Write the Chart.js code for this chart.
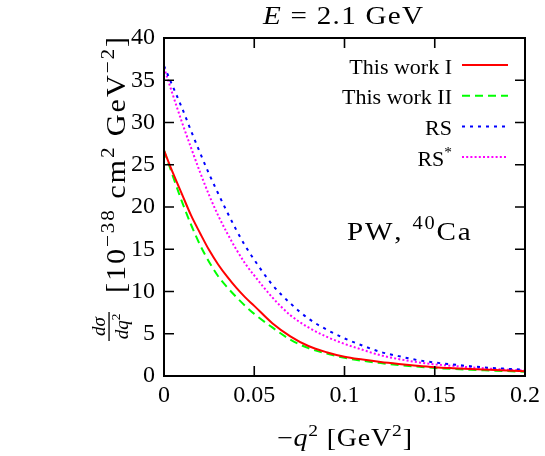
<!DOCTYPE html>
<html>
<head>
<meta charset="utf-8">
<script src="https://cdn.jsdelivr.net/npm/chart.js@4"></script>
<style>
  html, body { margin: 0; padding: 0; background: #fff; }
  #wrap { width: 545px; height: 456px; }
</style>
</head>
<body>
<div id="wrap"><canvas id="xsChart" width="545" height="456"></canvas></div>
<script>
// -q^2 [GeV^2]
const q2 = [0, 0.005, 0.01, 0.015, 0.02, 0.025, 0.03, 0.035, 0.04, 0.045, 0.05,
            0.06, 0.07, 0.08, 0.09, 0.1, 0.11, 0.12, 0.13, 0.14, 0.15,
            0.16, 0.17, 0.18, 0.19, 0.2];

// dsigma/dq^2 [10^-38 cm^2 GeV^-2]
const thisWorkI  = [26.7, 24.0, 21.5, 19.0, 16.9, 14.9, 13.2, 11.75, 10.45, 9.3, 8.3,
                    6.25, 4.7, 3.55, 2.82, 2.28, 1.94, 1.65, 1.42, 1.22, 1.05,
                    0.93, 0.83, 0.74, 0.65, 0.56];
const thisWorkII = [26.7, 23.6, 20.6, 17.9, 15.5, 13.5, 11.8, 10.5, 9.35, 8.3, 7.35,
                    5.75, 4.3, 3.3, 2.65, 2.15, 1.8, 1.53, 1.3, 1.11, 0.95,
                    0.83, 0.74, 0.66, 0.58, 0.51];
const rs         = [36.7, 34.2, 31.7, 29.0, 26.4, 23.9, 21.6, 19.4, 17.3, 15.4, 13.75,
                    10.8, 8.6, 6.8, 5.5, 4.45, 3.6, 2.85, 2.35, 1.9, 1.6,
                    1.36, 1.15, 0.98, 0.85, 0.74];
const rsStar     = [36.5, 33.2, 30.0, 27.0, 24.1, 21.4, 19.0, 16.9, 15.0, 13.3, 11.9,
                    9.3, 7.2, 5.75, 4.65, 3.8, 3.1, 2.45, 2.0, 1.65, 1.38,
                    1.2, 1.02, 0.88, 0.76, 0.66];

const seriesNames = ['This work I', 'This work II', 'RS', 'RS*'];
const xTicks = [0, 0.05, 0.1, 0.15, 0.2];
const yTicks = [0, 5, 10, 15, 20, 25, 30, 35, 40];

const FONT = '"Liberation Serif", "Times New Roman", serif';

function toPoints(ys) {
    return q2.map((x, i) => ({x: x, y: ys[i]}));
}

// rich text: parts = [{t, it, sup}], fitted to a given width
// (a little horizontal stretch, the rest as letter spacing)
function partFont(p, size) {
    const s = p.sup ? size * 0.7 : size;
    return (p.it ? 'italic ' : '') + s + 'px ' + FONT;
}
function drawRich(ctx, parts, x, y, size, targetW, align) {
    let w = 0, n = 0;
    parts.forEach(p => {
        ctx.font = partFont(p, size);
        w += ctx.measureText(p.t).width;
        n += Array.from(p.t).length;
    });
    let sx = 1, ls = 0;
    if (targetW) {
        sx = Math.max(0.9, Math.min(1.12, targetW / w));
        ls = n > 1 ? (targetW / sx - w) / (n - 1) : 0;
    }
    const total = (w + ls * (n - 1)) * sx;
    let x0 = x;
    if (align === 'right') x0 = x - total;
    if (align === 'center') x0 = x - total / 2;
    ctx.save();
    ctx.translate(x0, y);
    ctx.scale(sx, 1);
    ctx.textAlign = 'left';
    ctx.textBaseline = 'alphabetic';
    let cx = 0;
    parts.forEach(p => {
        ctx.font = partFont(p, size);
        Array.from(p.t).forEach(ch => {
            ctx.fillText(ch, cx, p.sup ? -size * 0.4 : 0);
            cx += ctx.measureText(ch).width + ls;
        });
    });
    ctx.restore();
}

const decorPlugin = {
    id: 'decor',
    afterDatasetsDraw(chart) {
        const ctx = chart.ctx;
        const a = chart.chartArea;
        const xs = chart.scales.x, ys = chart.scales.y;
        ctx.save();
        ctx.fillStyle = '#000';
        ctx.strokeStyle = '#000';

        // frame
        ctx.lineWidth = 2;
        ctx.strokeRect(a.left, a.top, a.right - a.left, a.bottom - a.top);

        // inward ticks on all sides
        ctx.lineWidth = 1.6;
        ctx.beginPath();
        xTicks.forEach(v => {
            const px = xs.getPixelForValue(v);
            ctx.moveTo(px, a.bottom); ctx.lineTo(px, a.bottom - 10);
            ctx.moveTo(px, a.top); ctx.lineTo(px, a.top + 10);
        });
        yTicks.forEach(v => {
            const py = ys.getPixelForValue(v);
            ctx.moveTo(a.left, py); ctx.lineTo(a.left + 10, py);
            ctx.moveTo(a.right, py); ctx.lineTo(a.right - 10, py);
        });
        ctx.stroke();

        // legend (text right-aligned, sample on the right)
        chart.data.datasets.forEach((ds, i) => {
            const yy = 65 + i * 30.7;
            drawRich(ctx, ds.label === 'RS*' ? [{t: 'RS'}, {t: '*', sup: true}] : [{t: ds.label}],
                     452, yy + 8.5, 22, null, 'right');
            ctx.save();
            ctx.strokeStyle = ds.borderColor;
            ctx.lineWidth = ds.borderWidth;
            ctx.setLineDash(ds.borderDash || []);
            ctx.beginPath();
            ctx.moveTo(462, yy);
            ctx.lineTo(508, yy);
            ctx.stroke();
            ctx.restore();
        });

        // PW, 40Ca
        drawRich(ctx, [{t: 'PW, '}, {t: '40', sup: true}, {t: 'Ca'}], 347, 239.5, 26, 121, 'left');

        // title
        drawRich(ctx, [{t: 'E', it: true}, {t: ' = 2.1 GeV'}], 263, 23.5, 26, 160, 'left');

        // x axis title
        drawRich(ctx, [{t: '\u2212'}, {t: 'q', it: true}, {t: '2', sup: true}, {t: ' [GeV'}, {t: '2', sup: true}, {t: ']'}],
                 277, 446, 25, 135, 'left');

        // y axis title (rotated)
        ctx.save();
        ctx.translate(125, 347);
        ctx.rotate(-Math.PI / 2);
        drawRich(ctx, [{t: 'd', it: true}, {t: '\u03C3', it: true}], 20.5, -20, 19, null, 'center');
        ctx.fillRect(6, -16.6, 29, 1.3);
        drawRich(ctx, [{t: 'dq', it: true}, {t: '2', sup: true}], 20.5, 3, 19, null, 'center');
        drawRich(ctx, [{t: '[10'}, {t: '\u221238', sup: true}, {t: ' cm'}, {t: '2', sup: true},
                       {t: ' GeV'}, {t: '\u22122', sup: true}, {t: ']'}],
                 54, 0, 27, 256, 'left');
        ctx.restore();

        ctx.restore();
    }
};

const ctx = document.getElementById('xsChart').getContext('2d');
const chart = new Chart(ctx, {
    type: 'line',
    data: {
        datasets: [
            {
                label: seriesNames[0],
                data: toPoints(thisWorkI),
                borderColor: '#ff0000',
                borderWidth: 2,
                borderDash: []
            },
            {
                label: seriesNames[1],
                data: toPoints(thisWorkII),
                borderColor: '#00ff00',
                borderWidth: 2,
                borderDash: [8, 5]
            },
            {
                label: seriesNames[2],
                data: toPoints(rs),
                borderColor: '#0000ff',
                borderWidth: 2,
                borderDash: [3, 5]
            },
            {
                label: seriesNames[3],
                data: toPoints(rsStar),
                borderColor: '#ff00ff',
                borderWidth: 2,
                borderDash: [2, 2.2]
            }
        ]
    },
    options: {
        responsive: false,
        animation: false,
        devicePixelRatio: 1,
        layout: { padding: { top: 38, right: 18, left: 0, bottom: 0 } },
        elements: {
            point: { radius: 0 },
            line: { cubicInterpolationMode: 'monotone', fill: false }
        },
        plugins: {
            legend: { display: false },
            tooltip: { enabled: false },
            title: { display: false }
        },
        scales: {
            x: {
                type: 'linear',
                min: 0,
                max: 0.2,
                afterBuildTicks: s => { s.ticks = xTicks.map(v => ({value: v})); },
                afterFit: s => { s.height = 80; },
                grid: { display: false, drawTicks: false },
                border: { display: false },
                ticks: {
                    color: '#000',
                    font: { family: FONT, size: 24 },
                    padding: 5,
                    maxRotation: 0,
                    autoSkip: false,
                    callback: v => String(+v.toFixed(2))
                }
            },
            y: {
                type: 'linear',
                min: 0,
                max: 40,
                afterBuildTicks: s => { s.ticks = yTicks.map(v => ({value: v})); },
                afterFit: s => { s.width = 164; },
                grid: { display: false, drawTicks: false },
                border: { display: false },
                ticks: {
                    color: '#000',
                    font: { family: FONT, size: 24 },
                    padding: 9,
                    autoSkip: false,
                    callback: v => String(v)
                }
            }
        }
    },
    plugins: [decorPlugin]
});
</script>
</body>
</html>
